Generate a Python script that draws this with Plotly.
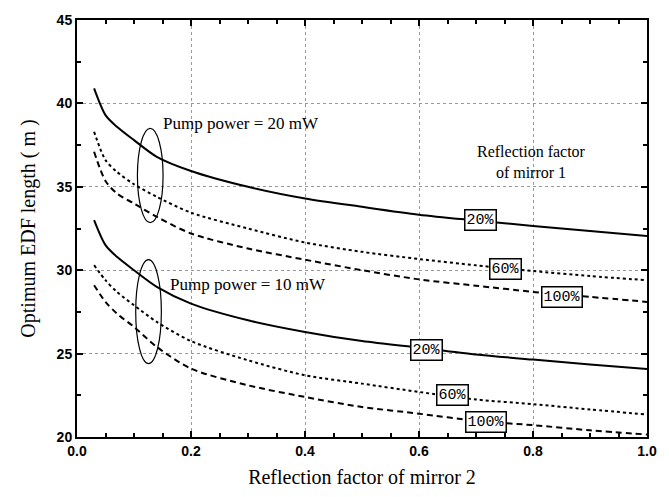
import plotly.graph_objects as go

# Reflection factor of mirror 2
x_r2 = [0.03, 0.05, 0.07, 0.10, 0.14, 0.20, 0.30, 0.40, 0.50, 0.60, 0.70, 0.80, 0.90, 1.00]

# Pump power = 20 mW, optimum EDF length (m)
p20_r20 = [40.9, 39.3, 38.6, 37.8, 36.8, 35.95, 35.0, 34.3, 33.8, 33.33, 32.98, 32.65, 32.35, 32.05]
p20_r60 = [38.3, 36.6, 35.9, 35.15, 34.4, 33.45, 32.5, 31.66, 31.1, 30.67, 30.29, 29.95, 29.65, 29.4]
p20_r100 = [37.1, 35.35, 34.6, 34.0, 33.2, 32.2, 31.3, 30.63, 30.0, 29.45, 29.07, 28.7, 28.4, 28.1]

# Pump power = 10 mW
p10_r20 = [33.0, 31.5, 30.8, 30.0, 29.0, 28.0, 27.0, 26.3, 25.75, 25.35, 24.95, 24.64, 24.35, 24.07]
p10_r60 = [30.3, 29.4, 28.7, 27.9, 26.9, 25.75, 24.6, 23.7, 23.2, 22.7, 22.25, 21.97, 21.65, 21.35]
p10_r100 = [29.1, 28.1, 27.4, 26.6, 25.4, 24.1, 23.1, 22.4, 21.8, 21.4, 20.97, 20.71, 20.4, 20.15]

series = [
    (p20_r20, "solid"), (p20_r60, "dot"), (p20_r100, "6px,4px"),
    (p10_r20, "solid"), (p10_r60, "dot"), (p10_r100, "6px,4px"),
]

# curve labels: (text, x, y)
curve_labels = [
    ("20%", 0.708, 33.0), ("60%", 0.752, 30.1), ("100%", 0.85, 28.4),
    ("20%", 0.613, 25.2), ("60%", 0.659, 22.5), ("100%", 0.717, 20.9),
]

fig = go.Figure()
for ys, dash in series:
    fig.add_trace(go.Scatter(x=x_r2, y=ys, mode="lines",
                             line=dict(color="black", width=2, dash=dash, shape="spline", smoothing=0.8),
                             showlegend=False, hoverinfo="skip"))

for txt, xv, yv in curve_labels:
    fig.add_annotation(x=xv, y=yv, text=txt, showarrow=False,
                       font=dict(family="Liberation Mono", size=15, color="black"),
                       bgcolor="white", bordercolor="black", borderwidth=1.5, borderpad=1)

serif = "Liberation Serif"
fig.add_annotation(x=0.148, y=38.8, text="Pump power = 20 mW", showarrow=False,
                   xanchor="left", font=dict(family=serif, size=17, color="black"))
fig.add_annotation(x=0.159, y=29.16, text="Pump power = 10 mW", showarrow=False,
                   xanchor="left", font=dict(family=serif, size=17, color="black"))
fig.add_annotation(x=0.797, y=36.48, text="Reflection factor<br>of mirror 1", showarrow=False,
                   font=dict(family=serif, size=16, color="black"))

fig.add_shape(type="circle", xref="x", yref="y", x0=0.106, x1=0.151, y0=32.85, y1=38.5,
              line=dict(color="black", width=1.2))
fig.add_shape(type="circle", xref="x", yref="y", x0=0.103, x1=0.148, y0=24.4, y1=30.63,
              line=dict(color="black", width=1.2))

tickfont = dict(family="Liberation Sans", size=14, color="black", weight="bold")
axis_common = dict(showline=True, linecolor="black", linewidth=2, mirror="ticks",
                   ticks="inside", ticklen=6, tickwidth=1.5, tickcolor="black",
                   showgrid=True, gridcolor="#999999", griddash="dot", gridwidth=1,
                   zeroline=False, tickfont=tickfont)

fig.update_xaxes(range=[0, 1], dtick=0.2, tickformat=".1f",
                 minor=dict(dtick=0.05, ticks="inside", ticklen=4, tickwidth=1.5,
                            tickcolor="black", showgrid=False),
                 title=dict(text="Reflection factor of mirror 2",
                            font=dict(family=serif, size=20, color="black"), standoff=12),
                 **axis_common)
fig.update_yaxes(range=[20, 45], dtick=5,
                 minor=dict(dtick=2.5, ticks="inside", ticklen=4, tickwidth=1.5,
                            tickcolor="black", showgrid=False),
                 title=dict(text="Optimum EDF length ( m )",
                            font=dict(family=serif, size=20, color="black"), standoff=16),
                 **axis_common)

fig.update_layout(width=669, height=497, margin=dict(l=77, r=19, t=13, b=60),
                  plot_bgcolor="white", paper_bgcolor="white")

fig.write_html("out.html")
